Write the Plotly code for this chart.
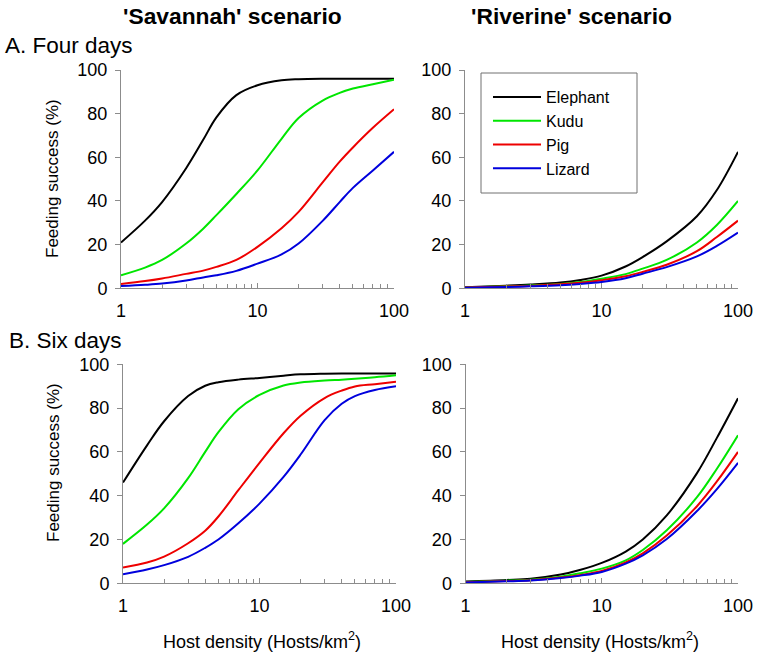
import plotly.graph_objects as go

W, H = 757, 662

species = ["Elephant", "Kudu", "Pig", "Lizard"]
colors = ["#000000", "#00E600", "#EE0000", "#0000DD"]

# x values (host density, hosts/km2)
sav_x = [1, 1.5, 2, 3, 4, 5, 7, 10, 15, 20, 30, 40, 50, 70, 100]
riv_x = [1, 2, 3, 5, 7, 10, 15, 20, 30, 50, 70, 100]

# A. Four days - Savannah
sav4_elephant = [21, 31, 39.5, 55, 68, 78.3, 88.5, 93, 95.3, 95.8, 96, 96, 96, 96, 96]
sav4_kudu = [6, 9.5, 13, 20.5, 27.3, 33.5, 43.2, 54, 68.5, 78, 86, 89.5, 91.5, 93.5, 95.5]
sav4_pig = [2, 3.3, 4.5, 6.6, 8.1, 9.8, 13, 19, 27.5, 35, 48.5, 58, 64.5, 73.5, 82]
sav4_lizard = [1, 1.6, 2.2, 3.6, 5, 6, 8, 11.3, 15.5, 20.5, 30.9, 39.5, 46, 54, 62.5]

# A. Four days - Riverine
riv4_elephant = [0.5, 1.2, 1.7, 2.6, 3.8, 5.8, 10, 14.3, 21.5, 33, 45, 62.5]
riv4_kudu = [0.4, 0.9, 1.3, 2, 2.9, 4.4, 6.5, 9, 13, 21, 29, 40]
riv4_pig = [0.35, 0.8, 1.1, 1.8, 2.5, 3.7, 5.5, 7.5, 10.8, 17, 23.5, 31]
riv4_lizard = [0.3, 0.6, 0.9, 1.4, 2, 2.9, 4.6, 6.7, 9.7, 14.6, 19.4, 25.5]

# B. Six days - Savannah
sav6_elephant = [46, 63, 74, 85.5, 90.2, 91.8, 93, 93.8, 94.8, 95.4, 95.7, 95.8, 95.8, 95.8, 95.8]
sav6_kudu = [18, 26.8, 34.2, 48, 60, 69, 79.5, 86, 90.3, 91.7, 92.6, 93, 93.4, 94.1, 95]
sav6_pig = [7.2, 9.5, 12.2, 18.3, 24, 30.5, 42.5, 55, 68.5, 76.5, 84.6, 88, 89.9, 90.9, 92]
sav6_lizard = [4.1, 6.3, 8.3, 12.1, 16.2, 20, 27.4, 36.4, 48.6, 58.8, 74.5, 82, 85.5, 88.3, 90]

# B. Six days - Riverine
riv6_elephant = [0.8, 1.5, 2.1, 4, 6.2, 9.3, 14.5, 20, 31, 50.3, 66.4, 84.5]
riv6_kudu = [0.6, 1.2, 1.6, 3, 4.6, 6.7, 10.5, 15.2, 24.2, 39.3, 52.3, 67.6]
riv6_pig = [0.5, 1, 1.4, 2.6, 3.8, 5.6, 9.5, 13.7, 21.8, 35.2, 46.5, 60]
riv6_lizard = [0.4, 0.9, 1.3, 2.4, 3.5, 5.2, 9, 12.8, 20.2, 33, 43, 55]

x_ticks = [1, 10, 100]
x_minor = [2, 3, 4, 5, 6, 7, 8, 9, 20, 30, 40, 50, 60, 70, 80, 90]
y_ticks = [0, 20, 40, 60, 80, 100]

panels = [
    ("x", "y", sav_x, [sav4_elephant, sav4_kudu, sav4_pig, sav4_lizard], False),
    ("x2", "y2", riv_x, [riv4_elephant, riv4_kudu, riv4_pig, riv4_lizard], True),
    ("x3", "y3", sav_x, [sav6_elephant, sav6_kudu, sav6_pig, sav6_lizard], False),
    ("x4", "y4", riv_x, [riv6_elephant, riv6_kudu, riv6_pig, riv6_lizard], False),
]

FONT = "Liberation Sans, Arial, sans-serif"
AX = "#8C8C8C"

fig = go.Figure()
for xa, ya, xs, series, show in panels:
    for name, col, ys in zip(species, colors, series):
        fig.add_trace(go.Scatter(
            x=xs, y=ys, mode="lines", name=name, xaxis=xa, yaxis=ya,
            line=dict(color=col, width=2, shape="spline", smoothing=1.0),
            showlegend=show, hoverinfo="skip",
        ))


def px_x(p):
    return p / W


def px_y(p):
    return 1 - p / H


def xaxis(domain, anchor):
    return dict(
        domain=domain, anchor=anchor, type="log", range=[0, 2],
        automargin=False,
        tickmode="array", tickvals=x_ticks, ticktext=[str(v) for v in x_ticks],
        ticks="inside", ticklen=5, tickcolor=AX, tickwidth=1,
        minor=dict(tickmode="array", tickvals=x_minor, ticks="inside",
                   ticklen=4, tickcolor=AX, tickwidth=1, showgrid=False),
        showline=True, linecolor=AX, linewidth=1, showgrid=False, zeroline=False,
        tickfont=dict(family=FONT, size=18, color="black"),
        ticklabelstandoff=6,
    )


def yaxis(domain, anchor):
    return dict(
        domain=domain, anchor=anchor, range=[0, 100],
        automargin=False,
        tickmode="array", tickvals=y_ticks,
        ticks="outside", ticklen=5, tickcolor=AX, tickwidth=1,
        showline=True, linecolor=AX, linewidth=1, showgrid=False, zeroline=False,
        tickfont=dict(family=FONT, size=18, color="black"),
        ticklabelstandoff=4,
    )


top = [px_y(288.3), px_y(70)]
bot = [px_y(583.3), px_y(364.3)]
left_top = [px_x(121), px_x(394)]
right_top = [px_x(465), px_x(738)]
left_bot = [px_x(123), px_x(396)]
right_bot = [px_x(465.5), px_x(738)]

annotations = []


def ann(text, x, y, size, bold=False, xanchor="center", angle=0):
    annotations.append(dict(
        text=f"<b>{text}</b>" if bold else text, x=px_x(x), y=px_y(y),
        xref="paper", yref="paper", showarrow=False, xanchor=xanchor,
        yanchor="middle", textangle=angle,
        font=dict(family=FONT, size=size, color="black"),
    ))


ann("'Savannah' scenario", 232, 16, 22.8, bold=True)
ann("'Riverine' scenario", 571, 16, 22.8, bold=True)
ann("A. Four days", 3, 45, 22.5, xanchor="left")
ann("B. Six days", 7, 340, 22.5, xanchor="left")
ann("Feeding success (%)", 52, 179, 17, angle=-90)
ann("Feeding success (%)", 53, 463, 17, angle=-90)
ann("Host density (Hosts/km<sup>2</sup>)", 262, 640, 18)
ann("Host density (Hosts/km<sup>2</sup>)", 600, 640, 18)

fig.update_layout(
    width=W, height=H,
    margin=dict(l=0, r=0, t=0, b=0, autoexpand=False),
    paper_bgcolor="white", plot_bgcolor="white",
    xaxis=xaxis(left_top, "y"), yaxis=yaxis(top, "x"),
    xaxis2=xaxis(right_top, "y2"), yaxis2=yaxis(top, "x2"),
    xaxis3=xaxis(left_bot, "y3"), yaxis3=yaxis(bot, "x3"),
    xaxis4=xaxis(right_bot, "y4"), yaxis4=yaxis(bot, "x4"),
    annotations=annotations,
    shapes=[dict(type="rect", xref="paper", yref="paper",
                 x0=px_x(481), x1=px_x(637), y0=px_y(193), y1=px_y(73),
                 line=dict(color="#707070", width=1), fillcolor="rgba(0,0,0,0)")],
    legend=dict(
        x=px_x(488), y=px_y(80), xanchor="left", yanchor="top",
        bgcolor="rgba(0,0,0,0)", borderwidth=0,
        font=dict(family=FONT, size=16, color="black"),
        itemwidth=48, tracegroupgap=0,
    ),
    showlegend=True,
)

fig.write_html("out.html",
               config={"displayModeBar": False, "staticPlot": True},
               post_script="document.body.style.margin='0px';document.body.style.overflow='hidden';")
